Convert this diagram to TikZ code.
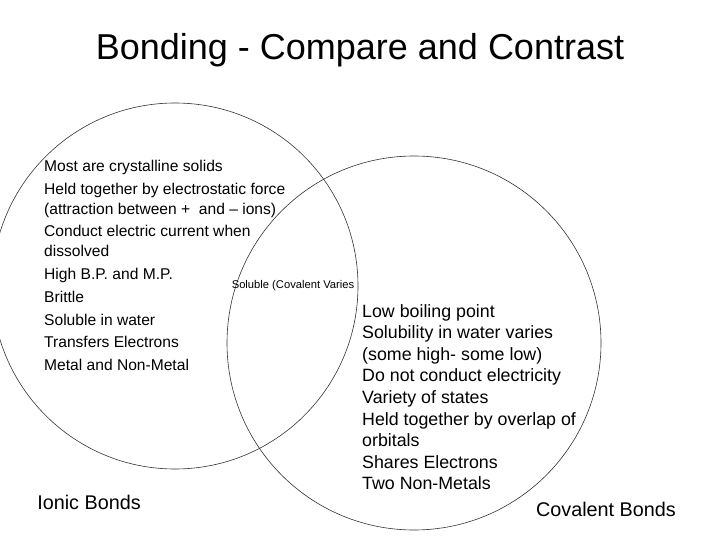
\documentclass[tikz,border=0pt]{standalone}
\usepackage{fontspec}
\setmainfont{Liberation Sans}
\usetikzlibrary{positioning}

\begin{document}
\begin{tikzpicture}[x=1pt,y=-1pt,
                    ring/.style={line width=0.6pt, black!80},
                    leftlist/.style={anchor=north west, align=left, inner sep=0pt,
                                     font=\fontsize{15.6}{19.8}\selectfont},
                    rightlist/.style={anchor=north west, align=left, inner sep=0pt,
                                      font=\fontsize{17.8}{21.6}\selectfont},
                    caption/.style={inner sep=0pt, font=\fontsize{19.8}{22}\selectfont},
                   ]

\useasboundingbox (0,0) rectangle (720,540);

\node[font=\fontsize{36}{40}\selectfont] (title) at (360,50) {Bonding - Compare and Contrast};

\draw[ring] (175,286) circle (183);
\draw[ring] (414,343) circle (187);

\node[leftlist] (ionic) at (44,160) {Most are crystalline solids\\[3pt]
Held together by electrostatic force\\(attraction between +\ \ and -- ions)\\[3pt]
Conduct electric current when\\dissolved\\[3pt]
High B.P. and M.P.\\[3pt]
Brittle\\[3pt]
Soluble in water\\[3pt]
Transfers Electrons\\[3pt]
Metal and Non-Metal};

\node[inner sep=0pt, font=\fontsize{11.2}{12}\selectfont] (both) at (293,286) {Soluble (Covalent Varies};

\node[rightlist] (covalent) at (362,304) {Low boiling point\\
Solubility in water varies\\
(some high- some low)\\
Do not conduct electricity\\
Variety of states\\
Held together by overlap of\\
orbitals\\
Shares Electrons\\
Two Non-Metals};

\node[caption] (ionlabel) at (89,502) {Ionic Bonds};
\node[caption] (covlabel) at (606,509) {Covalent Bonds};

\end{tikzpicture}
\end{document}
